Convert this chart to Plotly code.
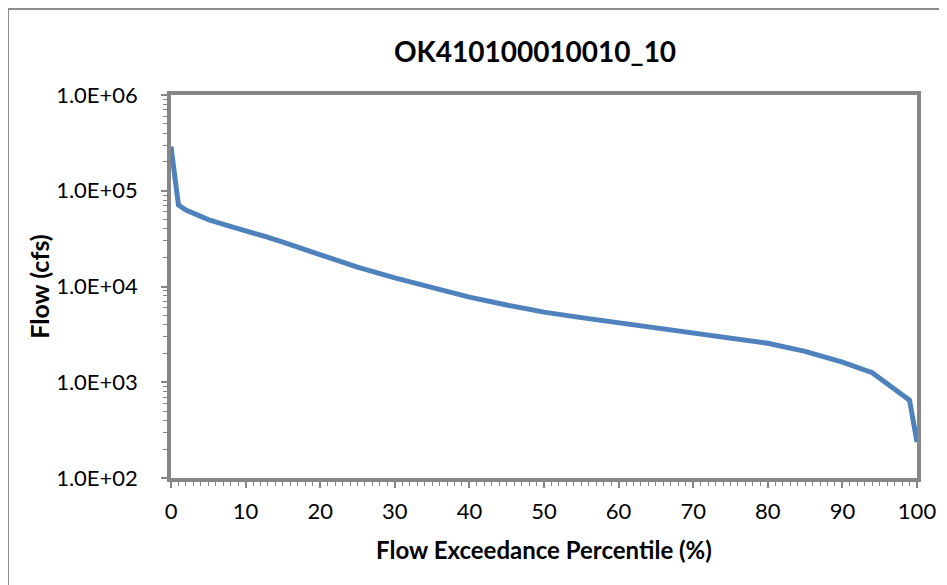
import plotly.graph_objects as go

# Data
percentile = [0, 1, 2, 3, 5, 7.5, 10, 12.5, 15, 17.5, 20, 25, 30, 35, 40, 45, 50, 55, 60, 65, 70, 75,
              80, 85, 90, 94, 99, 100]
flow_cfs = [290000, 71000, 63000, 58000, 50000, 43500, 38500, 33500, 29000, 25000, 21200, 15900,
            12300, 9700, 7750, 6400, 5400, 4730, 4170, 3700, 3300, 2920, 2550, 2100, 1620, 1260,
            650, 237]

y_tick_vals = [1e2, 1e3, 1e4, 1e5, 1e6]
y_tick_text = ["1.0E+02", "1.0E+03", "1.0E+04", "1.0E+05", "1.0E+06"]
y_minor_vals = [k * 10 ** n for n in range(2, 6) for k in range(2, 10)]

title_text = "OK410100010010_10"
x_title = "Flow Exceedance Percentile (%)"
y_title = "Flow (cfs)"

W, H = 947, 585
OFF = 8  # page body margin
L, R, T, B = 171 - OFF, 917 - OFF, 95 - OFF, 478 - OFF

FONT = "Lato"
AXIS_GREY = "#868686"

fig = go.Figure()
fig.add_trace(go.Scatter(
    x=percentile, y=flow_cfs, mode="lines",
    line=dict(color="#4F81BD", width=5),
    showlegend=False, hoverinfo="x+y",
))

fig.update_layout(
    width=W, height=H,
    margin=dict(l=L, r=W - R, t=T, b=H - B),
    paper_bgcolor="white", plot_bgcolor="white",
    font=dict(family=FONT, size=22, color="black"),
    title=dict(text="<b>" + title_text + "</b>", x=(535 - OFF) / W, xanchor="center",
               y=1 - (52 - OFF) / H, yanchor="middle", yref="container",
               font=dict(family=FONT, size=28, color="black")),
    xaxis=dict(
        range=[0, 100], tickmode="linear", tick0=0, dtick=10,
        showgrid=False, zeroline=False,
        showline=True, linewidth=3.5, linecolor=AXIS_GREY, mirror=True,
        ticks="outside", ticklen=6, tickwidth=1.5, tickcolor=AXIS_GREY,
        minor=dict(ticks="outside", dtick=1, tick0=0, ticklen=4, tickwidth=1, tickcolor=AXIS_GREY),
        ticklabelstandoff=5,
        tickfont=dict(family=FONT, size=22),
        title=dict(text="<b>" + x_title + "</b>", standoff=20,
                   font=dict(family=FONT, size=24, color="black")),
    ),
    yaxis=dict(
        type="log", range=[2, 6],
        tickmode="array", tickvals=y_tick_vals, ticktext=y_tick_text,
        showgrid=False, zeroline=False,
        showline=True, linewidth=3.5, linecolor=AXIS_GREY, mirror=True,
        ticks="outside", ticklen=6, tickwidth=1.5, tickcolor=AXIS_GREY,
        minor=dict(ticks="outside", tickmode="array", tickvals=y_minor_vals,
                   ticklen=4, tickwidth=1, tickcolor=AXIS_GREY),
        ticklabelstandoff=19,
        tickfont=dict(family=FONT, size=22),
        title=dict(text="<b>" + y_title + "</b>", standoff=0,
                   font=dict(family=FONT, size=25, color="black")),
    ),
)

# Outer chart-area border (only top and left edges are visible in the reference)
pw, ph = R - L, B - T
fig.add_shape(type="rect", xref="paper", yref="paper",
              x0=(0 - L) / pw, x1=(W + 20 - L) / pw,
              y0=(B - (H + 20)) / ph, y1=(B - 1) / ph,
              line=dict(color="#8C8C8C", width=2), fillcolor="rgba(0,0,0,0)", layer="below")

fig.write_html("out.html")
